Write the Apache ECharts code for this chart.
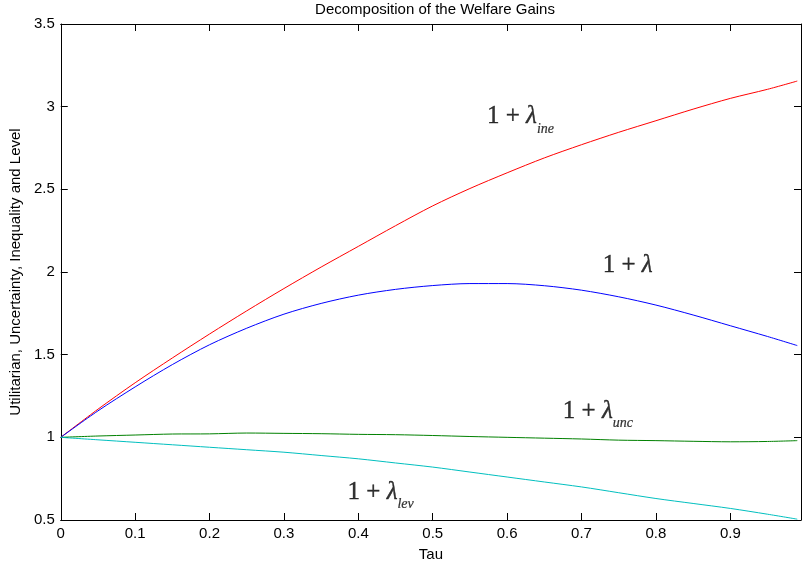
<!DOCTYPE html>
<html>
<head>
<meta charset="utf-8">
<script src="https://cdn.jsdelivr.net/npm/echarts@6/dist/echarts.min.js"></script>
<style>html,body{margin:0;padding:0;background:#fff;}#c{width:802px;height:570px;}</style>
</head>
<body>
<div id="c"></div>
<script>
var tau = [0, 0.05, 0.1, 0.15, 0.2, 0.25, 0.3, 0.35, 0.4, 0.45, 0.5, 0.55, 0.6, 0.65, 0.7, 0.75, 0.8, 0.85, 0.9, 0.95, 0.99];
var lambdaIne = [1.0, 1.17, 1.33, 1.48, 1.625, 1.765, 1.90, 2.03, 2.155, 2.28, 2.40, 2.505, 2.60, 2.69, 2.77, 2.845, 2.915, 2.985, 3.05, 3.105, 3.155];
var lambdaTot = [1.0, 1.16, 1.305, 1.44, 1.56, 1.66, 1.745, 1.81, 1.86, 1.895, 1.918, 1.93, 1.93, 1.917, 1.89, 1.85, 1.80, 1.74, 1.675, 1.61, 1.555];
var lambdaUnc = [1.0, 1.008, 1.014, 1.02, 1.021, 1.026, 1.024, 1.022, 1.018, 1.016, 1.011, 1.005, 1.0, 0.995, 0.99, 0.983, 0.98, 0.976, 0.973, 0.975, 0.98];
var lambdaLev = [1.0, 0.985, 0.97, 0.955, 0.94, 0.925, 0.91, 0.89, 0.87, 0.845, 0.82, 0.79, 0.76, 0.73, 0.70, 0.665, 0.63, 0.60, 0.57, 0.535, 0.505];
var xTicks = [0, 0.1, 0.2, 0.3, 0.4, 0.5, 0.6, 0.7, 0.8, 0.9];
var yTicks = [0.5, 1, 1.5, 2, 2.5, 3, 3.5];
var annotations = [
  [0.618, 2.93, 'ine'],
  [0.762, 2.03, ''],
  [0.722, 1.15, 'unc'],
  [0.43, 0.66, 'lev']
];

function pair(ys) { return tau.map(function (t, i) { return [t, ys[i]]; }); }

var chart = echarts.init(document.getElementById('c'), null, {renderer: 'canvas'});
var axisCommon = {
  axisLine: {show: true, onZero: false, lineStyle: {color: '#000', width: 1}},
  axisTick: {show: true, inside: true, length: 7, lineStyle: {color: '#000', width: 1}},
  splitLine: {show: false}
};
var lblFont = {color: '#000', fontFamily: 'Liberation Sans, Arial, sans-serif', fontSize: 15};

function lineSeries(name, ys, color) {
  return {name: name, type: 'line', data: pair(ys), showSymbol: false, symbol: 'none', smooth: 0.3,
    lineStyle: {color: color, width: 1}, itemStyle: {color: color}, animation: false, z: 3};
}

var serif = 'Liberation Serif, Times New Roman, serif';

chart.setOption({
  animation: false,
  backgroundColor: '#fff',
  title: {
    text: 'Decomposition of the Welfare Gains', left: 430, top: -3, textAlign: 'center',
    textStyle: {color: '#000', fontFamily: 'Liberation Sans, Arial, sans-serif', fontSize: 15, fontWeight: 'normal'}
  },
  grid: {left: 59, right: 1, top: 24, bottom: 50, containLabel: false},
  xAxis: [
    Object.assign({type: 'value', min: 0, max: 0.995, interval: 0.1, position: 'bottom',
      name: 'Tau', nameLocation: 'middle', nameGap: 27,
      nameTextStyle: lblFont,
      axisLabel: Object.assign({show: true, margin: 6, showMaxLabel: false,
        formatter: function (v) { var r = Math.round(v * 10) / 10; return xTicks.indexOf(r) >= 0 && Math.abs(v - r) < 1e-6 ? String(r) : ''; }
      }, lblFont)}, axisCommon),
    Object.assign({type: 'value', min: 0, max: 0.995, interval: 0.1, position: 'top',
      axisLabel: {show: false}}, axisCommon)
  ],
  yAxis: [
    Object.assign({type: 'value', min: 0.5, max: 3.5, interval: 0.5, position: 'left',
      name: 'Utilitarian, Uncertainty, Inequality and Level', nameLocation: 'middle', nameGap: 35, nameRotate: 90,
      nameTextStyle: lblFont,
      axisLabel: Object.assign({show: true, margin: 6,
        formatter: function (v) { return yTicks.indexOf(v) >= 0 ? String(v) : ''; }
      }, lblFont)}, axisCommon),
    Object.assign({type: 'value', min: 0.5, max: 3.5, interval: 0.5, position: 'right',
      axisLabel: {show: false}}, axisCommon)
  ],
  series: [
    lineSeries('1+lambda_ine', lambdaIne, '#ff0000'),
    lineSeries('1+lambda', lambdaTot, '#0000ff'),
    lineSeries('1+lambda_unc', lambdaUnc, '#008000'),
    lineSeries('1+lambda_lev', lambdaLev, '#00bfbf'),
    {
      type: 'scatter', name: 'labels', data: annotations, symbolSize: 0, silent: true, z: 5,
      label: {
        show: true, position: 'inside', color: '#000',
        formatter: function (p) {
          var s = p.data[2];
          return '{n|1 + }{l|λ}' + (s ? '{s|' + s + '}' : '');
        },
        rich: {
          n: {fontFamily: serif, fontSize: 25, lineHeight: 28, verticalAlign: 'top', color: '#000', textBorderColor: '#000', textBorderWidth: 0.4},
          l: {fontFamily: serif, fontStyle: 'italic', fontSize: 25, lineHeight: 28, verticalAlign: 'top', color: '#000', textBorderColor: '#000', textBorderWidth: 0.4},
          s: {fontFamily: serif, fontStyle: 'italic', fontSize: 14, lineHeight: 14, padding: [18, 0, 0, 0], verticalAlign: 'top', color: '#000', textBorderColor: '#000', textBorderWidth: 0.2}
        }
      }
    }
  ]
});
</script>
</body>
</html>
